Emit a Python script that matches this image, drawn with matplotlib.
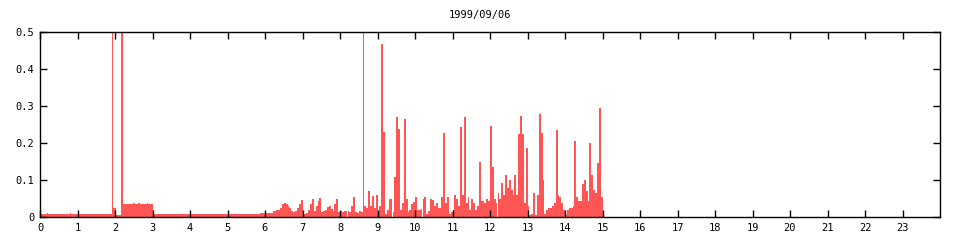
import matplotlib
matplotlib.use("Agg")
import matplotlib.pyplot as plt

title = "1999/09/06"
color = "#ff5555"

# Early part of the day: step breakpoints (hour, value held until next hour)
early_times = [0.0, 0.18, 0.22, 0.48, 0.52, 0.80, 0.83, 1.93, 1.955, 2.03, 2.15, 2.22,
               2.48, 2.52, 2.62, 2.66, 2.84, 2.87, 3.0, 5.87, 6.0]
early_values = [0.009, 0.011, 0.009, 0.010, 0.009, 0.011, 0.009, 0.60, 0.024, 0.006, 0.60, 0.037,
                0.040, 0.037, 0.040, 0.037, 0.040, 0.037, 0.009, 0.012, 0.012]

# Later part: 3-minute bins starting at 6.00 h
bin_start = 6.0
bin_width = 0.05
bin_values = [
    0.011, 0.012, 0.011, 0.012, 0.016, 0.018, 0.019, 0.021, 0.026, 0.035,   # 6.0
    0.040, 0.036, 0.030, 0.024, 0.018, 0.014, 0.018, 0.025, 0.036, 0.046,   # 6.5
    0.010, 0.010, 0.012, 0.020, 0.035, 0.050, 0.016, 0.030, 0.045, 0.053,   # 7.0
    0.015, 0.016, 0.020, 0.028, 0.030, 0.022, 0.018, 0.035, 0.050, 0.015,   # 7.5
    0.016, 0.014, 0.016, 0.017, 0.017, 0.015, 0.030, 0.055, 0.015, 0.012,   # 8.0
    0.018, 0.015, 0.600, 0.030, 0.025, 0.070, 0.030, 0.058, 0.025, 0.060,   # 8.5
    0.010, 0.030, 0.468, 0.230, 0.010, 0.020, 0.050, 0.050, 0.015, 0.110,   # 9.0
    0.272, 0.239, 0.020, 0.040, 0.267, 0.050, 0.015, 0.020, 0.035, 0.042,   # 9.5
    0.055, 0.020, 0.020, 0.022, 0.050, 0.055, 0.010, 0.018, 0.050, 0.048,   # 10.0
    0.030, 0.040, 0.025, 0.025, 0.055, 0.229, 0.040, 0.055, 0.010, 0.015,   # 10.5
    0.020, 0.060, 0.050, 0.030, 0.245, 0.060, 0.272, 0.040, 0.055, 0.020,   # 11.0
    0.050, 0.040, 0.020, 0.030, 0.150, 0.045, 0.045, 0.040, 0.050, 0.045,   # 11.5
    0.248, 0.137, 0.050, 0.040, 0.065, 0.050, 0.094, 0.060, 0.115, 0.080,   # 12.0
    0.100, 0.075, 0.060, 0.115, 0.060, 0.226, 0.275, 0.226, 0.040, 0.186,   # 12.5
    0.030, 0.005, 0.008, 0.065, 0.005, 0.060, 0.280, 0.227, 0.100, 0.010,   # 13.0
    0.020, 0.025, 0.025, 0.030, 0.040, 0.237, 0.060, 0.055, 0.040, 0.020,   # 13.5
    0.005, 0.020, 0.025, 0.025, 0.030, 0.205, 0.055, 0.045, 0.045, 0.090,   # 14.0
    0.100, 0.070, 0.045, 0.200, 0.113, 0.075, 0.065, 0.146, 0.295, 0.056,   # 14.5
]

x_ticks = list(range(0, 24))
y_ticks = [0, 0.1, 0.2, 0.3, 0.4, 0.5]
y_labels = ["0", "0.1", "0.2", "0.3", "0.4", "0.5"]

plt.rcParams['font.family'] = ['DejaVu Sans Mono']
fig = plt.figure(figsize=(9.6, 2.4), dpi=100)
ax = fig.add_axes([40/960, 22.7/240, 900/960, 185/240])

# early step series
ax.fill_between(early_times + [bin_start], early_values + [early_values[-1]], 0,
                step="post", color=color, linewidth=0, antialiased=False)
# binned series
starts = [bin_start + i * bin_width for i in range(len(bin_values))]
ax.bar(starts, bin_values, width=bin_width, align="edge", color=color, linewidth=0,
       antialiased=False)

ax.set_xlim(0, 24)
ax.set_ylim(0, 0.5)
ax.set_xticks(x_ticks)
ax.set_xticklabels([str(t) for t in x_ticks])
ax.set_yticks(y_ticks)
ax.set_yticklabels(y_labels)
ax.tick_params(direction="in", length=5, width=1, top=True, right=True,
               labelsize=7.5, pad=4, colors="black")
for s in ax.spines.values():
    s.set_linewidth(1.0)
    s.set_color("black")
fig.text(0.5, 1 - 15/240, title, ha="center", va="center", fontsize=7.5)

fig.savefig("out.png", dpi=100)
